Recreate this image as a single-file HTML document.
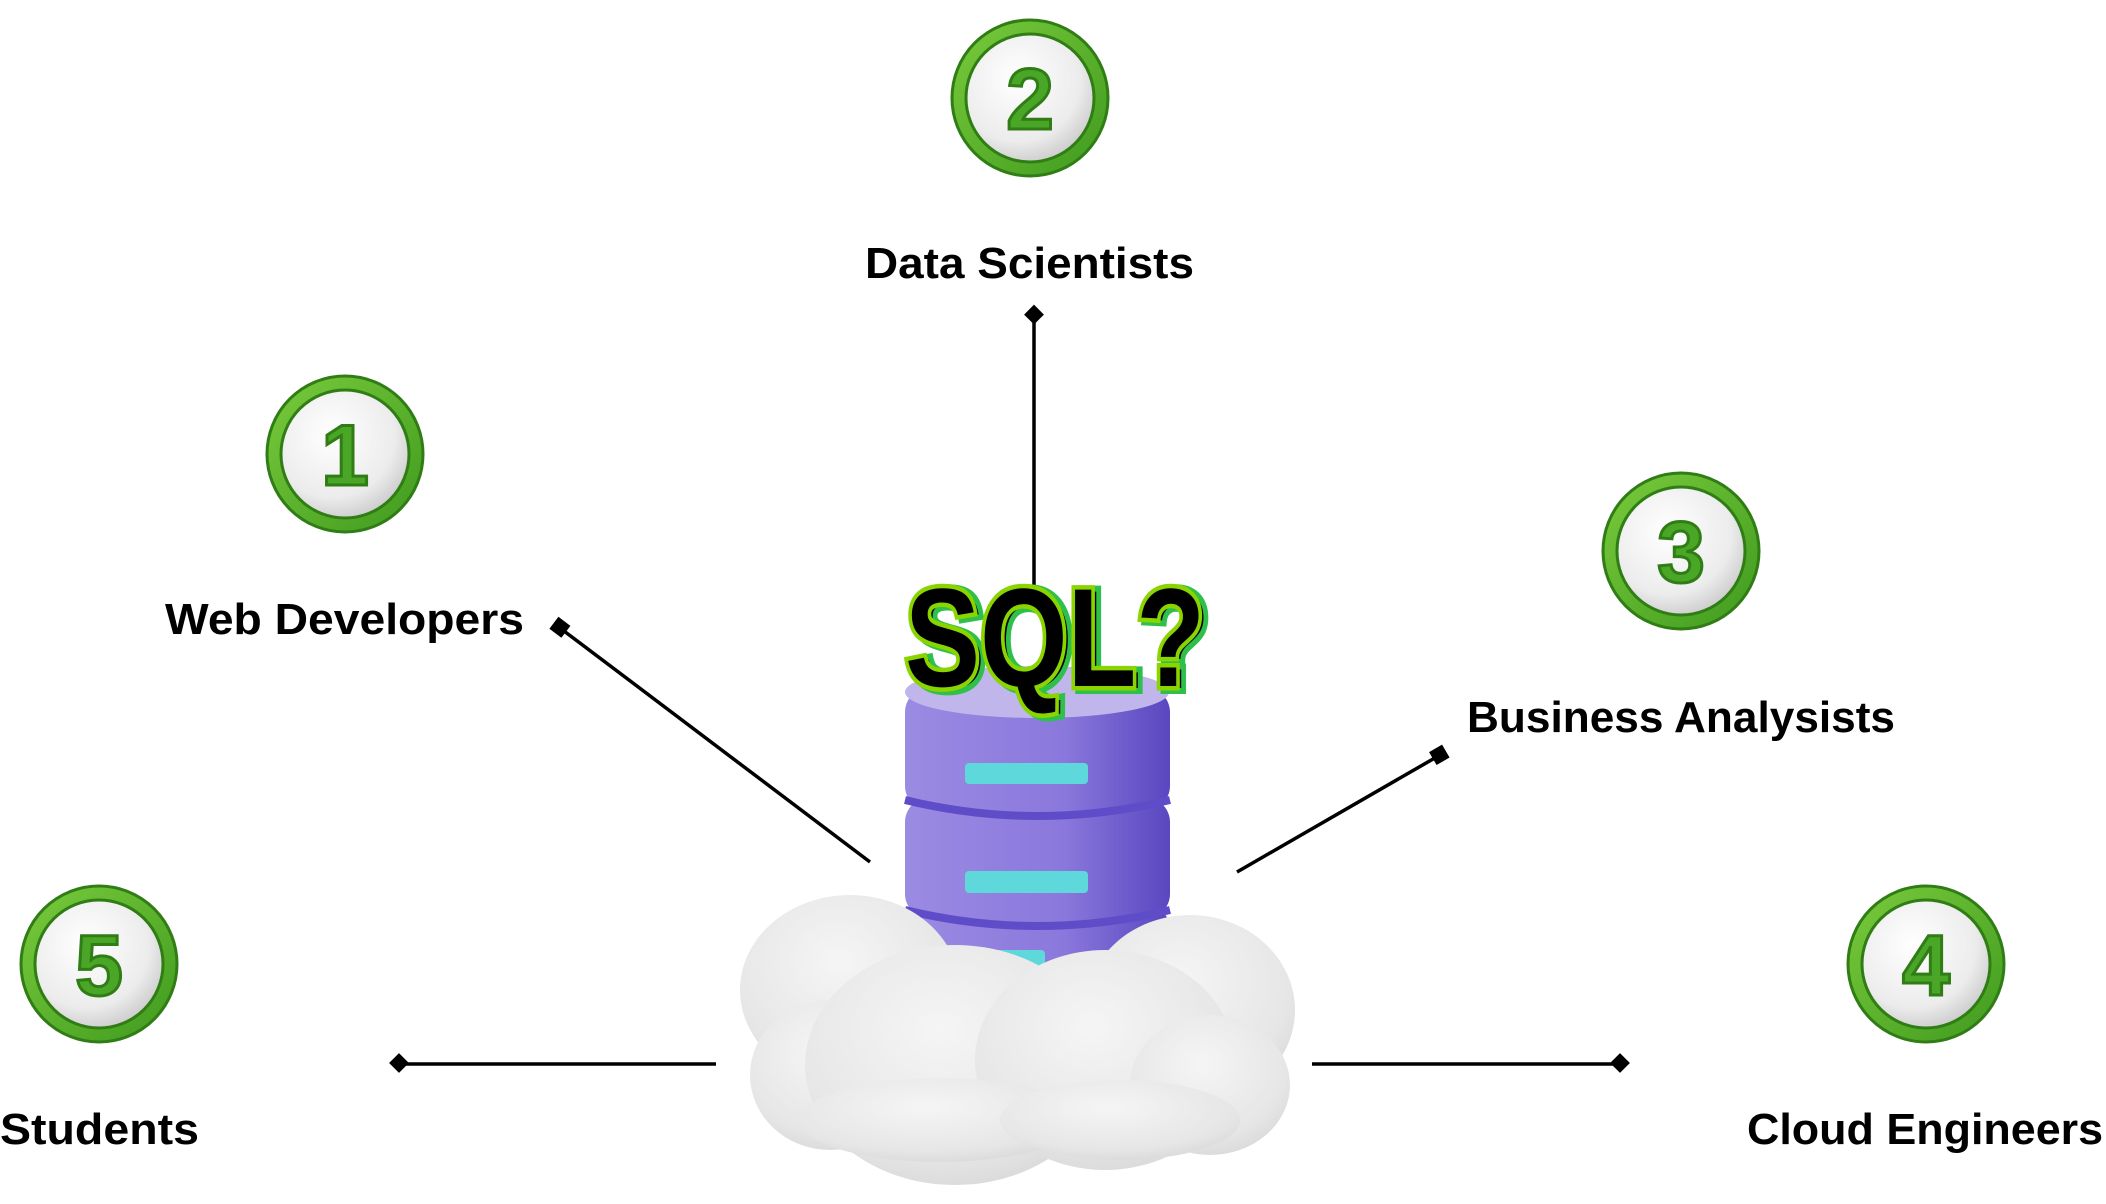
<!DOCTYPE html>
<html><head><meta charset="utf-8"><style>
html,body{margin:0;padding:0;background:#fff;}
svg{display:block;}
text{font-family:"Liberation Sans",sans-serif;font-weight:bold;}
</style></head><body>
<svg width="2106" height="1204" viewBox="0 0 2106 1204" xmlns="http://www.w3.org/2000/svg">
<defs>
<radialGradient id="disc" cx="0.4" cy="0.35" r="0.7"><stop offset="0" stop-color="#ffffff"/><stop offset="0.7" stop-color="#ececec"/><stop offset="1" stop-color="#c9c9c9"/></radialGradient>
<linearGradient id="ring" x1="0" y1="0" x2="1" y2="1"><stop offset="0" stop-color="#7acb3c"/><stop offset="1" stop-color="#3f9a1e"/></linearGradient>
<linearGradient id="cyl" x1="0" y1="0" x2="1" y2="0"><stop offset="0" stop-color="#9b8be2"/><stop offset="0.6" stop-color="#8a78dc"/><stop offset="1" stop-color="#5a47c0"/></linearGradient>
<radialGradient id="cloud" cx="0.45" cy="0.35" r="0.75"><stop offset="0" stop-color="#f5f5f5"/><stop offset="0.7" stop-color="#e6e6e6"/><stop offset="1" stop-color="#d4d4d4"/></radialGradient>
<g id="badge"><circle r="78" fill="url(#ring)"/><circle r="64" fill="url(#disc)"/></g>
</defs>

<g font-size="86" fill="#4aa626" stroke="#2f7d14" stroke-width="3" text-anchor="middle">
<use href="#badge" x="345" y="454"/><text x="345" y="485">1</text>
<use href="#badge" x="1030" y="98"/><text x="1030" y="129">2</text>
<use href="#badge" x="1681" y="551"/><text x="1681" y="582">3</text>
<use href="#badge" x="1926" y="964"/><text x="1926" y="995">4</text>
<use href="#badge" x="99" y="964"/><text x="99" y="995">5</text>
</g>

<g font-size="44" fill="#000">
<text x="865" y="278" textLength="329" lengthAdjust="spacingAndGlyphs">Data Scientists</text>
<text x="165" y="634" textLength="359" lengthAdjust="spacingAndGlyphs">Web Developers</text>
<text x="1467" y="732" textLength="428" lengthAdjust="spacingAndGlyphs">Business Analysists</text>
<text x="0" y="1144" textLength="199" lengthAdjust="spacingAndGlyphs">Students</text>
<text x="1747" y="1144" textLength="356" lengthAdjust="spacingAndGlyphs">Cloud Engineers</text>
</g>

<g stroke="#000" stroke-width="3.5" fill="none">
<line x1="1034" y1="316" x2="1034" y2="600"/>
<line x1="560" y1="628" x2="870" y2="862"/>
<line x1="1440" y1="755" x2="1237" y2="872"/>
<line x1="400" y1="1064" x2="716" y2="1064"/>
<line x1="1312" y1="1064" x2="1621" y2="1064"/>
</g>
<g fill="#000">
<rect x="1026" y="308" width="14" height="14" transform="rotate(45 1034 316)" />
<rect x="392" y="1056" width="14" height="14" transform="rotate(45 399 1063)"/>
<rect x="1613" y="1056" width="14" height="14" transform="rotate(45 1620 1063)"/>
<rect x="552" y="620" width="15" height="15" transform="rotate(37 560 628)"/>
<rect x="1432" y="747" width="15" height="15" transform="rotate(-30 1440 755)"/>
</g>

<g>
<rect x="905" y="905" width="265" height="100" rx="24" fill="url(#cyl)"/>
<rect x="905" y="798" width="265" height="120" rx="24" fill="url(#cyl)"/>
<rect x="905" y="688" width="265" height="122" rx="24" fill="url(#cyl)"/>
<ellipse cx="1037" cy="692" rx="132" ry="26" fill="#c0b6ec"/>
<path d="M905 800 Q1037 832 1170 800" stroke="#5f4cc8" stroke-width="8" fill="none"/>
<path d="M905 910 Q1037 942 1170 910" stroke="#5f4cc8" stroke-width="8" fill="none"/>
<rect x="965" y="763" width="123" height="21" rx="4" fill="#5fd8dc"/>
<rect x="965" y="871" width="123" height="22" rx="4" fill="#5fd8dc"/>
<rect x="985" y="950" width="60" height="16" rx="4" fill="#5fd8dc"/>
</g>

<g fill="url(#cloud)">
<ellipse cx="850" cy="990" rx="110" ry="95"/>
<ellipse cx="1190" cy="1010" rx="105" ry="95"/>
<ellipse cx="830" cy="1075" rx="80" ry="75"/>
<ellipse cx="955" cy="1065" rx="150" ry="120"/>
<ellipse cx="1105" cy="1060" rx="130" ry="110"/>
<ellipse cx="1210" cy="1085" rx="80" ry="70"/>
<ellipse cx="940" cy="1120" rx="140" ry="42"/>
<ellipse cx="1120" cy="1120" rx="120" ry="40"/>
</g>

<text x="905" y="686" font-size="140" font-family="'DejaVu Sans',sans-serif" font-weight="bold" fill="#000" stroke="#2ec04a" stroke-width="12" paint-order="stroke" textLength="300" lengthAdjust="spacingAndGlyphs" transform="translate(5,2)">SQL?</text>
<text x="905" y="686" font-size="140" font-family="'DejaVu Sans',sans-serif" font-weight="bold" fill="#000" stroke="#8ad400" stroke-width="9" paint-order="stroke" textLength="300" lengthAdjust="spacingAndGlyphs">SQL?</text>
</svg>
</body></html>
